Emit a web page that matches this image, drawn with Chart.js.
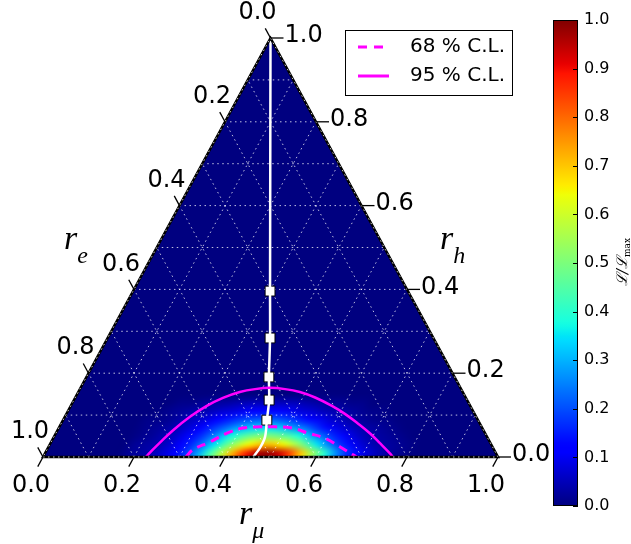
<!DOCTYPE html>
<html>
<head>
<meta charset="utf-8">
<script src="https://cdn.jsdelivr.net/npm/chart.js@4.4.1/dist/chart.umd.min.js"></script>
<style>
  body { margin: 0; background: #fff; }
  #wrap { position: relative; width: 631px; height: 544px; }
  canvas { position: absolute; left: 0; top: 0; }
</style>
</head>
<body>
<div id="wrap">
  <canvas id="tern" width="631" height="544"></canvas>
  <canvas id="cbar" width="631" height="544"></canvas>
</div>
<script>
// ternary coordinates: r_mu (bottom), r_h (right), r_e = 1 - r_mu - r_h
const tickVals = [0.0, 0.2, 0.4, 0.6, 0.8, 1.0];
const gridVals = [0.1, 0.2, 0.3, 0.4, 0.5, 0.6, 0.7, 0.8, 0.9];

// likelihood map L/Lmax, rows of r_h, columns of r_mu (outside = 0)
const rhRows = [0.01, 0.03, 0.05, 0.07, 0.09, 0.11, 0.13];
const rMuCols = [0.1875, 0.2125, 0.2375, 0.2625, 0.2875, 0.3125, 0.3375, 0.3625, 0.3875, 0.4125,
                 0.4375, 0.4625, 0.4875, 0.5125, 0.5375, 0.5625, 0.5875, 0.6125, 0.6375, 0.6625,
                 0.6875, 0.7125, 0.7375, 0.7625, 0.7875];
const likelihood = [
  [0.02,0.03,0.05,0.08,0.12,0.19,0.29,0.43,0.57,0.73,0.86,0.95,0.98,0.94,0.84,0.70,0.54,0.40,0.27,0.17,0.11,0.07,0.04,0.02,0.01],
  [0.02,0.03,0.04,0.07,0.11,0.17,0.25,0.35,0.46,0.57,0.65,0.70,0.70,0.65,0.57,0.46,0.35,0.25,0.17,0.11,0.07,0.04,0.03,0.02,0.01],
  [0.01,0.02,0.04,0.06,0.10,0.15,0.21,0.29,0.37,0.44,0.49,0.51,0.49,0.45,0.38,0.30,0.23,0.16,0.11,0.07,0.04,0.03,0.02,0.01,0.00],
  [0.01,0.02,0.03,0.05,0.08,0.12,0.17,0.22,0.27,0.31,0.33,0.34,0.32,0.28,0.24,0.18,0.13,0.09,0.06,0.04,0.03,0.02,0.01,0.00,0.00],
  [0.01,0.01,0.02,0.04,0.06,0.08,0.11,0.15,0.18,0.20,0.21,0.21,0.19,0.16,0.13,0.10,0.07,0.05,0.03,0.02,0.01,0.01,0.00,0.00,0.00],
  [0.00,0.01,0.02,0.03,0.04,0.05,0.07,0.08,0.10,0.11,0.11,0.11,0.10,0.08,0.07,0.05,0.04,0.03,0.02,0.01,0.01,0.00,0.00,0.00,0.00],
  [0.00,0.00,0.01,0.01,0.02,0.03,0.03,0.04,0.05,0.05,0.05,0.05,0.05,0.04,0.03,0.02,0.02,0.01,0.01,0.00,0.00,0.00,0.00,0.00,0.00]
];

// 95 % C.L. contour
const cl95Mu = [0.226,0.230,0.240,0.254,0.275,0.299,0.325,0.355,0.385,0.417,0.451,0.487,0.527,0.574,0.612,0.652,0.691,0.724,0.759,0.769];
const cl95H  = [0.000,0.011,0.035,0.064,0.096,0.122,0.141,0.155,0.162,0.165,0.162,0.155,0.142,0.122,0.103,0.080,0.056,0.033,0.008,0.000];
// 68 % C.L. contour
const cl68Mu = [0.314,0.321,0.349,0.376,0.405,0.441,0.474,0.513,0.554,0.597,0.641,0.679,0.690];
const cl68H  = [0.000,0.017,0.036,0.057,0.069,0.072,0.072,0.069,0.057,0.045,0.024,0.005,0.000];
// white curve and its square markers
const curveMu = [0.000,0.301,0.357,0.401,0.429,0.448,0.464,0.466,0.462];
const curveH  = [1.000,0.396,0.284,0.191,0.136,0.088,0.048,0.021,0.000];
const markMu = [0.301,0.357,0.401,0.429,0.448];
const markH  = [0.396,0.284,0.191,0.136,0.088];

const cellW = 0.025, cellH = 0.02;
const FONT = '"DejaVu Sans", sans-serif';

function toXY(mu, h) { return { x: mu + h / 2, y: h }; }
function pts(mus, hs) { return mus.map((m, i) => toXY(m, hs[i])); }

function lerp(v, xs, ys) {
  for (let i = 1; i < xs.length; i++) {
    if (v <= xs[i]) {
      const t = (v - xs[i - 1]) / (xs[i] - xs[i - 1]);
      return ys[i - 1] + t * (ys[i] - ys[i - 1]);
    }
  }
  return ys[ys.length - 1];
}
function jetRGB(v) {
  const r = lerp(v, [0, 0.35, 0.66, 0.89, 1], [0, 0, 1, 1, 0.5]);
  const g = lerp(v, [0, 0.125, 0.375, 0.64, 0.91, 1], [0, 0, 1, 1, 0, 0]);
  const b = lerp(v, [0, 0.11, 0.34, 0.65, 1], [0.5, 1, 1, 0, 0]);
  return [Math.round(r * 255), Math.round(g * 255), Math.round(b * 255)];
}
function jet(v) { const c = jetRGB(v); return `rgb(${c[0]},${c[1]},${c[2]})`; }

function mathLabel(ctx, base, sub, x, y, size, subSize) {
  ctx.font = `italic ${size}px "Liberation Serif", serif`;
  ctx.textAlign = 'left';
  ctx.textBaseline = 'alphabetic';
  ctx.fillText(base, x, y);
  const w = ctx.measureText(base).width;
  ctx.font = `italic ${subSize}px "Liberation Serif", serif`;
  ctx.fillText(sub, x + w, y + size * 0.4);
}

// small image of the map, one pixel per cell, padded with zeros on top and sides
function heatImage() {
  const nc = rMuCols.length, nr = rhRows.length;
  const off = document.createElement('canvas');
  off.width = nc + 2; off.height = nr + 1;
  const c = off.getContext('2d');
  const img = c.createImageData(off.width, off.height);
  for (let py = 0; py < off.height; py++) {
    for (let px = 0; px < off.width; px++) {
      const i = nr - py, j = px - 1;
      const v = (i >= 0 && i < nr && j >= 0 && j < nc) ? likelihood[i][j] : 0;
      const col = jetRGB(v), k = 4 * (py * off.width + px);
      img.data[k] = col[0]; img.data[k + 1] = col[1]; img.data[k + 2] = col[2]; img.data[k + 3] = 255;
    }
  }
  c.putImageData(img, 0, 0);
  return off;
}

const ternaryPlugin = {
  id: 'ternary',
  beforeDatasetsDraw(chart) {
    const { ctx, scales: { x, y } } = chart;
    const P = (X, Y) => [x.getPixelForValue(X), y.getPixelForValue(Y)];
    ctx.save();
    ctx.beginPath();
    ctx.moveTo(...P(0, 0));
    ctx.lineTo(...P(1, 0));
    ctx.lineTo(...P(0.5, 1));
    ctx.closePath();
    ctx.fillStyle = jet(0);
    ctx.fill();
    ctx.clip();

    // map the cell image into ternary space (affine: r_mu, r_h -> pixels)
    const sx = x.getPixelForValue(1) - x.getPixelForValue(0);
    const sy = y.getPixelForValue(0) - y.getPixelForValue(1);
    const mu0 = rMuCols[0] - cellW / 2 - cellW;
    const hTop = rhRows[rhRows.length - 1] + cellH / 2 + cellH;
    const e = x.getPixelForValue(mu0 + hTop / 2);
    const f = y.getPixelForValue(hTop);
    ctx.save();
    ctx.transform(sx * cellW, 0, -sx * cellH / 2, sy * cellH, e, f);
    ctx.imageSmoothingEnabled = true;
    ctx.imageSmoothingQuality = 'high';
    ctx.drawImage(heatImage(), 0, 0);
    ctx.restore();

    // dotted grid
    ctx.strokeStyle = 'rgba(255,255,255,0.75)';
    ctx.lineWidth = 1;
    ctx.setLineDash([1.5, 3.5]);
    gridVals.forEach(v => {
      const segs = [
        [toXY(0, v), toXY(1 - v, v)],
        [toXY(v, 0), toXY(v, 1 - v)],
        [toXY(1 - v, 0), toXY(0, 1 - v)]
      ];
      segs.forEach(([a, b]) => {
        ctx.beginPath();
        ctx.moveTo(...P(a.x, a.y));
        ctx.lineTo(...P(b.x, b.y));
        ctx.stroke();
      });
    });
    ctx.restore();
  },
  afterDraw(chart) {
    const { ctx, scales: { x, y } } = chart;
    const P = (X, Y) => [x.getPixelForValue(X), y.getPixelForValue(Y)];
    ctx.save();
    // outline
    ctx.beginPath();
    ctx.moveTo(...P(0, 0));
    ctx.lineTo(...P(1, 0));
    ctx.lineTo(...P(0.5, 1));
    ctx.closePath();
    ctx.strokeStyle = '#000';
    ctx.lineWidth = 2.5;
    ctx.stroke();
    ctx.strokeStyle = 'rgba(255,255,255,0.8)';
    ctx.lineWidth = 1;
    ctx.setLineDash([1.5, 3.5]);
    ctx.stroke();
    ctx.setLineDash([]);

    // tick directions in pixels
    const o = P(0, 0);
    const dv = P(-0.5, -1), dl = P(-0.5, 1);
    const norm = (p) => { const dx = p[0] - o[0], dy = p[1] - o[1], l = Math.hypot(dx, dy); return [dx / l, dy / l]; };
    const dBot = norm(dv), dLeft = norm(dl);
    const tl = 11;

    ctx.strokeStyle = '#000';
    ctx.lineWidth = 1.3;
    ctx.fillStyle = '#000';
    ctx.font = `24px ${FONT}`;
    tickVals.forEach(v => {
      const lab = v.toFixed(1);
      // bottom: r_mu
      let e = P(v, 0);
      ctx.beginPath(); ctx.moveTo(e[0], e[1]); ctx.lineTo(e[0] + dBot[0] * tl, e[1] + dBot[1] * tl); ctx.stroke();
      ctx.textAlign = 'center'; ctx.textBaseline = 'middle';
      ctx.fillText(lab, e[0] - 12, e[1] + 29);
      // left: r_e
      const pl = toXY(0, 1 - v);
      e = P(pl.x, pl.y);
      ctx.beginPath(); ctx.moveTo(e[0], e[1]); ctx.lineTo(e[0] + dLeft[0] * tl, e[1] + dLeft[1] * tl); ctx.stroke();
      ctx.fillText(lab, e[0] - 13, e[1] - 25);
      // right: r_h
      const pr = toXY(1 - v, v);
      e = P(pr.x, pr.y);
      ctx.beginPath(); ctx.moveTo(e[0], e[1]); ctx.lineTo(e[0] + 13, e[1]); ctx.stroke();
      ctx.textAlign = 'left';
      ctx.fillText(lab, e[0] + 14, e[1] - 2);
    });

    // axis titles
    mathLabel(ctx, 'r', 'e', 64, 249, 34, 24);
    mathLabel(ctx, 'r', 'h', 440, 249, 34, 24);
    mathLabel(ctx, 'r', 'μ', 239, 524, 34, 24);

    // legend
    ctx.fillStyle = '#fff';
    ctx.fillRect(345.5, 30.5, 167, 65);
    ctx.strokeStyle = '#000';
    ctx.lineWidth = 1;
    ctx.strokeRect(345.5, 30.5, 167, 65);
    ctx.strokeStyle = '#ff00ff';
    ctx.lineWidth = 3;
    ctx.setLineDash([9, 7]);
    ctx.beginPath(); ctx.moveTo(358, 47); ctx.lineTo(388, 47); ctx.stroke();
    ctx.setLineDash([]);
    ctx.beginPath(); ctx.moveTo(358, 76); ctx.lineTo(389, 76); ctx.stroke();
    ctx.fillStyle = '#000';
    ctx.font = `20px ${FONT}`;
    ctx.textAlign = 'left';
    ctx.textBaseline = 'middle';
    ctx.fillText('68 % C.L.', 410, 47);
    ctx.fillText('95 % C.L.', 410, 76);
    ctx.restore();
  }
};

new Chart(document.getElementById('tern'), {
  type: 'line',
  data: {
    datasets: [
      { label: '95 % C.L.', data: pts(cl95Mu, cl95H), borderColor: '#ff00ff', borderWidth: 2.5,
        pointRadius: 0, tension: 0.4, capBezierPoints: false, clip: false },
      { label: '68 % C.L.', data: pts(cl68Mu, cl68H), borderColor: '#ff00ff', borderWidth: 3,
        borderDash: [9, 6], pointRadius: 0, tension: 0.4, capBezierPoints: false, clip: false },
      { label: 'curve', data: pts(curveMu, curveH), borderColor: '#ffffff', borderWidth: 2.5,
        pointRadius: 0, tension: 0.3, clip: false },
      { label: 'markers', data: pts(markMu, markH), showLine: false, pointStyle: 'rect',
        pointRadius: 7, backgroundColor: '#ffffff', borderColor: '#000000', borderWidth: 1, clip: false }
    ]
  },
  options: {
    responsive: false,
    animation: false,
    devicePixelRatio: 1,
    layout: { padding: { left: 43, right: 133, top: 38, bottom: 87 } },
    scales: {
      x: { type: 'linear', min: 0, max: 1, display: false },
      y: { type: 'linear', min: 0, max: 1, display: false }
    },
    plugins: { legend: { display: false }, tooltip: { enabled: false } }
  },
  plugins: [ternaryPlugin]
});

const colorbarPlugin = {
  id: 'colorbar',
  beforeDatasetsDraw(chart) {
    const { ctx, chartArea: a, scales: { y } } = chart;
    ctx.save();
    const g = ctx.createLinearGradient(0, y.getPixelForValue(0), 0, y.getPixelForValue(1));
    for (let i = 0; i <= 100; i++) g.addColorStop(i / 100, jet(i / 100));
    ctx.fillStyle = g;
    ctx.fillRect(a.left, a.top, a.right - a.left, a.bottom - a.top);
    ctx.strokeStyle = '#000';
    ctx.lineWidth = 1;
    ctx.strokeRect(a.left + 0.5, a.top + 0.5, a.right - a.left - 1, a.bottom - a.top - 1);
    y.ticks.forEach(t => {
      const py = Math.round(y.getPixelForValue(t.value)) + 0.5;
      ctx.beginPath(); ctx.moveTo(a.right - 5, py); ctx.lineTo(a.right, py); ctx.stroke();
    });
    // title L / L_max, rotated
    ctx.translate(622, 262);
    ctx.rotate(-Math.PI / 2);
    ctx.fillStyle = '#000';
    ctx.textBaseline = 'alphabetic';
    ctx.textAlign = 'left';
    const main = 'ℒ/ℒ';
    ctx.font = 'italic 15px "DejaVu Serif", serif';
    const w1 = ctx.measureText(main).width;
    ctx.font = '9px "DejaVu Serif", serif';
    const w2 = ctx.measureText('max').width;
    const x0 = -(w1 + w2) / 2;
    ctx.font = 'italic 15px "DejaVu Serif", serif';
    ctx.fillText(main, x0, 5);
    ctx.font = '9px "DejaVu Serif", serif';
    ctx.fillText('max', x0 + w1, 8);
    ctx.restore();
  }
};

new Chart(document.getElementById('cbar'), {
  type: 'scatter',
  data: { datasets: [] },
  options: {
    responsive: false,
    animation: false,
    devicePixelRatio: 1,
    layout: { padding: { left: 553, right: 0, top: 20, bottom: 38 } },
    scales: {
      x: { type: 'linear', min: 0, max: 1, display: false },
      y: {
        type: 'linear', position: 'right', min: 0, max: 1,
        afterFit(s) { s.width = 53; },
        grid: { display: false, drawTicks: false },
        border: { display: false },
        ticks: { stepSize: 0.1, padding: 6, color: '#000', font: { family: 'DejaVu Sans', size: 16 },
                 callback: v => Number(v).toFixed(1) }
      }
    },
    plugins: { legend: { display: false }, tooltip: { enabled: false } }
  },
  plugins: [colorbarPlugin]
});
</script>
</body>
</html>
